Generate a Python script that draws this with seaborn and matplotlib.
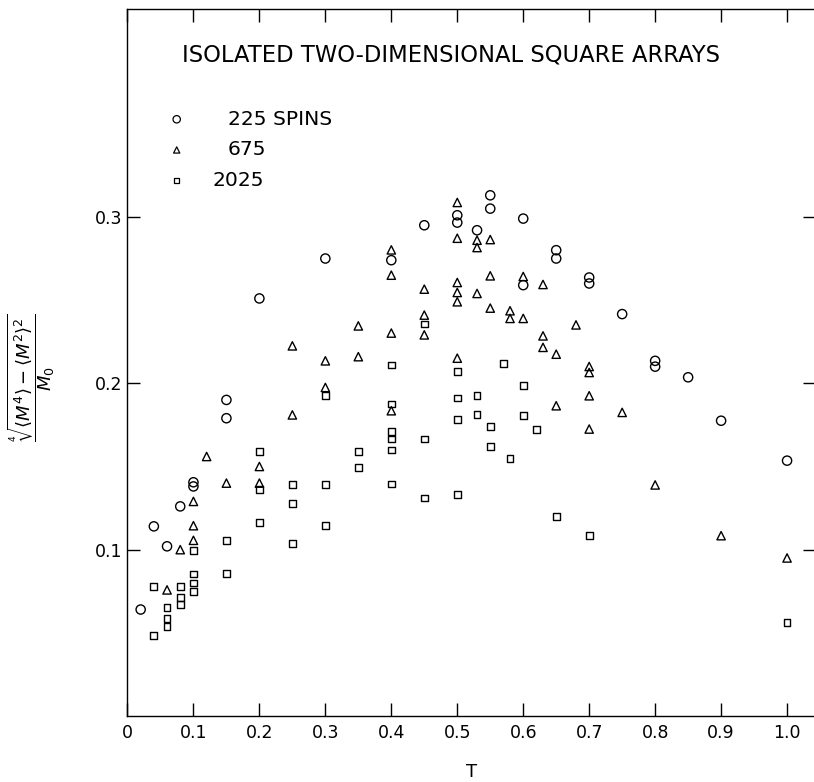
import matplotlib
matplotlib.use("Agg")
import matplotlib.pyplot as plt
import seaborn as sns
import pandas as pd

# ---- data ----
t_225 = [0.02, 0.04, 0.06, 0.08, 0.10, 0.10, 0.15, 0.15, 0.20, 0.30, 0.40, 0.45,
         0.50, 0.50, 0.53, 0.55, 0.55, 0.60, 0.60, 0.65, 0.65, 0.70, 0.70, 0.75,
         0.80, 0.80, 0.85, 0.90, 1.00]
v_225 = [0.064, 0.114, 0.102, 0.126, 0.1405, 0.138, 0.190, 0.179, 0.251, 0.275, 0.274, 0.295,
         0.301, 0.2966, 0.292, 0.313, 0.305, 0.299, 0.259, 0.280, 0.275, 0.2636, 0.260, 0.2416,
         0.2135, 0.210, 0.2036, 0.1775, 0.1535]

t_675 = [0.06, 0.08, 0.10, 0.10, 0.10, 0.12, 0.15, 0.20, 0.20, 0.25, 0.25, 0.30, 0.30,
         0.35, 0.35, 0.40, 0.40, 0.40, 0.40, 0.45, 0.45, 0.45, 0.50, 0.50, 0.50, 0.50,
         0.50, 0.50, 0.53, 0.53, 0.53, 0.55, 0.55, 0.55, 0.58, 0.58, 0.60, 0.60, 0.63,
         0.63, 0.63, 0.65, 0.65, 0.68, 0.70, 0.70, 0.70, 0.70, 0.75, 0.80, 0.90, 1.00]
v_675 = [0.0758, 0.100, 0.1056, 0.1144, 0.129, 0.156, 0.140, 0.150, 0.140, 0.181, 0.2225, 0.1975, 0.2135,
         0.2345, 0.216, 0.2802, 0.265, 0.2302, 0.1835, 0.2566, 0.241, 0.2291, 0.3087, 0.2872, 0.2606, 0.2546,
         0.249, 0.2151, 0.286, 0.2816, 0.254, 0.2864, 0.2646, 0.2452, 0.2436, 0.239, 0.2642, 0.239, 0.2594,
         0.2285, 0.2216, 0.2175, 0.1865, 0.2351, 0.2101, 0.2065, 0.1925, 0.1725, 0.1825, 0.1389, 0.1084, 0.095]

t_2025 = [0.04, 0.04, 0.06, 0.06, 0.06, 0.08, 0.08, 0.08, 0.10, 0.10, 0.10, 0.10, 0.15,
          0.15, 0.20, 0.20, 0.20, 0.25, 0.25, 0.25, 0.30, 0.30, 0.30, 0.35, 0.35, 0.40,
          0.40, 0.40, 0.40, 0.40, 0.40, 0.45, 0.45, 0.45, 0.50, 0.50, 0.50, 0.50, 0.53,
          0.53, 0.55, 0.55, 0.57, 0.58, 0.60, 0.60, 0.62, 0.65, 0.70, 1.00]
v_2025 = [0.0778, 0.0483, 0.065, 0.0588, 0.054, 0.0778, 0.071, 0.067, 0.0996, 0.0854, 0.080, 0.0748, 0.1056,
          0.0856, 0.159, 0.136, 0.1165, 0.139, 0.1276, 0.1036, 0.1925, 0.139, 0.1144, 0.1589, 0.1495, 0.211,
          0.1875, 0.1709, 0.1665, 0.1599, 0.1395, 0.2356, 0.1665, 0.131, 0.2071, 0.1911, 0.178, 0.133, 0.1925,
          0.181, 0.1741, 0.1619, 0.212, 0.1549, 0.1985, 0.1805, 0.172, 0.1198, 0.1084, 0.0564]

series_labels = ["225 SPINS", "675", "2025"]
x_ticks = [0.0, 0.1, 0.2, 0.3, 0.4, 0.5, 0.6, 0.7, 0.8, 0.9, 1.0]
x_tick_labels = ["0", "0.1", "0.2", "0.3", "0.4", "0.5", "0.6", "0.7", "0.8", "0.9", "1.0"]
y_ticks = [0.1, 0.2, 0.3]
y_tick_labels = ["0.1", "0.2", "0.3"]
title = "ISOLATED TWO-DIMENSIONAL SQUARE ARRAYS"

# ---- styling ----
sns.set_style("ticks")
plt.rcParams["font.family"] = ["DejaVu Sans"]
plt.rcParams["mathtext.fontset"] = "dejavusans"
plt.rcParams["text.color"] = "black"
plt.rcParams["axes.labelcolor"] = "black"
plt.rcParams["xtick.color"] = "black"
plt.rcParams["ytick.color"] = "black"

fig = plt.figure(figsize=(8.14, 7.82), dpi=100)
ax = fig.add_axes([0.1566, 0.0844, 0.8458, 0.9041])

df225 = pd.DataFrame({"T": t_225, "v": v_225})
df675 = pd.DataFrame({"T": t_675, "v": v_675})
df2025 = pd.DataFrame({"T": t_2025, "v": v_2025})

sns.scatterplot(data=df225, x="T", y="v", marker="o", s=44, facecolor="none",
                edgecolor="black", linewidth=1.0, ax=ax, legend=False, zorder=3)
sns.scatterplot(data=df675, x="T", y="v", marker="^", s=36, facecolor="none",
                edgecolor="black", linewidth=1.0, ax=ax, legend=False, zorder=3)
sns.scatterplot(data=df2025, x="T", y="v", marker="s", s=24, facecolor="none",
                edgecolor="black", linewidth=1.0, ax=ax, legend=False, zorder=3)

ax.set_xlim(0, 1.0438)
ax.set_ylim(0, 0.425)
ax.set_xticks(x_ticks)
ax.set_xticklabels(x_tick_labels)
ax.set_yticks(y_ticks)
ax.set_yticklabels(y_tick_labels)
ax.tick_params(direction="in", length=9.5, width=1.0, color="black",
               top=True, right=True, labelsize=12.5, labelcolor="black")
ax.tick_params(axis="x", pad=6)
ax.tick_params(axis="y", pad=3.5)
for sp in ax.spines.values():
    sp.set_linewidth(1.0)
    sp.set_color("black")

ax.set_xlabel("T", fontsize=13, labelpad=15)
ax.set_ylabel(r"$\dfrac{\sqrt[4]{\langle M^4\rangle - \langle M^2\rangle^2}}{M_0}$", fontsize=13)
ax.yaxis.set_label_coords(-0.102, 0.478)

ax.text(0.4706, 0.935, title, transform=ax.transAxes, ha="center", va="center",
        fontsize=16.3)

# legend-like key
key_x = 0.0715
key_y = [0.844, 0.8006, 0.757]
ax.scatter([key_x], [key_y[0]], marker="o", s=28, facecolor="none", edgecolor="black",
           linewidth=0.9, transform=ax.transAxes)
ax.scatter([key_x], [key_y[1]], marker="^", s=20, facecolor="none", edgecolor="black",
           linewidth=0.9, transform=ax.transAxes)
ax.scatter([key_x], [key_y[2]], marker="s", s=13, facecolor="none", edgecolor="black",
           linewidth=0.9, transform=ax.transAxes)
ax.text(0.146, key_y[0], series_labels[0], transform=ax.transAxes, ha="left", va="center", fontsize=14.6)
ax.text(0.146, key_y[1], series_labels[1], transform=ax.transAxes, ha="left", va="center", fontsize=14.6)
ax.text(0.124, key_y[2], series_labels[2], transform=ax.transAxes, ha="left", va="center", fontsize=14.6)

fig.savefig("out.png", dpi=100)
